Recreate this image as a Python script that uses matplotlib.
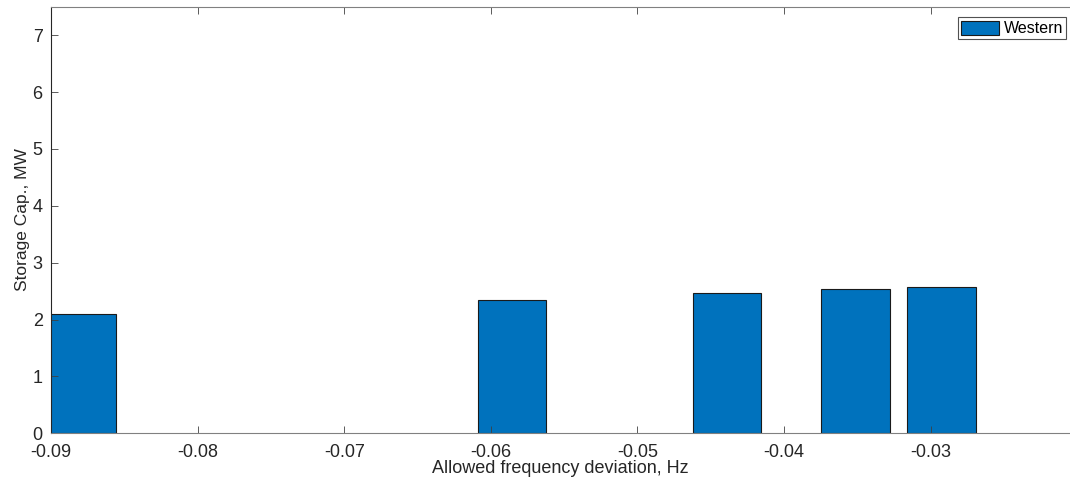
import numpy as np
import matplotlib.pyplot as plt

# storage capacity per allowed frequency deviation
deviation = [-0.0879, -0.05855, -0.0439, -0.03513, -0.02928]
capacity = [2.10, 2.34, 2.46, 2.53, 2.57]
bar_width = 0.00468

plt.rcParams['font.family'] = ['Liberation Sans', 'DejaVu Sans']

fig = plt.figure(figsize=(10.7, 4.87), dpi=100)
ax = fig.add_axes([51 / 1070, (487 - 433.3) / 487, 1 - 51 / 1070, (433.3 - 6.7) / 487])

ax.bar(deviation, capacity, width=bar_width, color='#0072BD',
       edgecolor='#1a1a1a', linewidth=0.8, label='Western')

ax.set_xlim(-0.09, -0.0205)
ax.set_ylim(0, 7.5)
ax.set_xticks(np.arange(-0.09, -0.025, 0.01))
ax.set_xticklabels(['-0.09', '-0.08', '-0.07', '-0.06', '-0.05', '-0.04', '-0.03'])
ax.set_yticks(range(0, 8))

ax.set_xlabel('Allowed frequency deviation, Hz', fontsize=13, color='#262626', labelpad=-1)
ax.set_ylabel('Storage Cap., MW', fontsize=12.5, color='#262626', labelpad=2)

ax.tick_params(direction='in', length=5, width=0.6, colors='#404040',
               labelcolor='#262626', labelsize=13, top=True)
ax.tick_params(axis='x', pad=8)
ax.tick_params(axis='y', pad=6)
for side in ['left', 'bottom', 'top']:
    ax.spines[side].set_color('#808080')
    ax.spines[side].set_linewidth(0.8)
ax.spines['left'].set_color('#262626')
ax.spines['right'].set_visible(False)

leg = ax.legend(loc='upper right', bbox_to_anchor=(0.9965, 0.975), fontsize=11.5,
                frameon=True, fancybox=False, handlelength=2.4, handleheight=1.0,
                handletextpad=0.3, borderpad=0.2, borderaxespad=0)
leg.get_frame().set_edgecolor('#262626')
leg.get_frame().set_linewidth(0.8)

fig.savefig('out.png', dpi=100)
